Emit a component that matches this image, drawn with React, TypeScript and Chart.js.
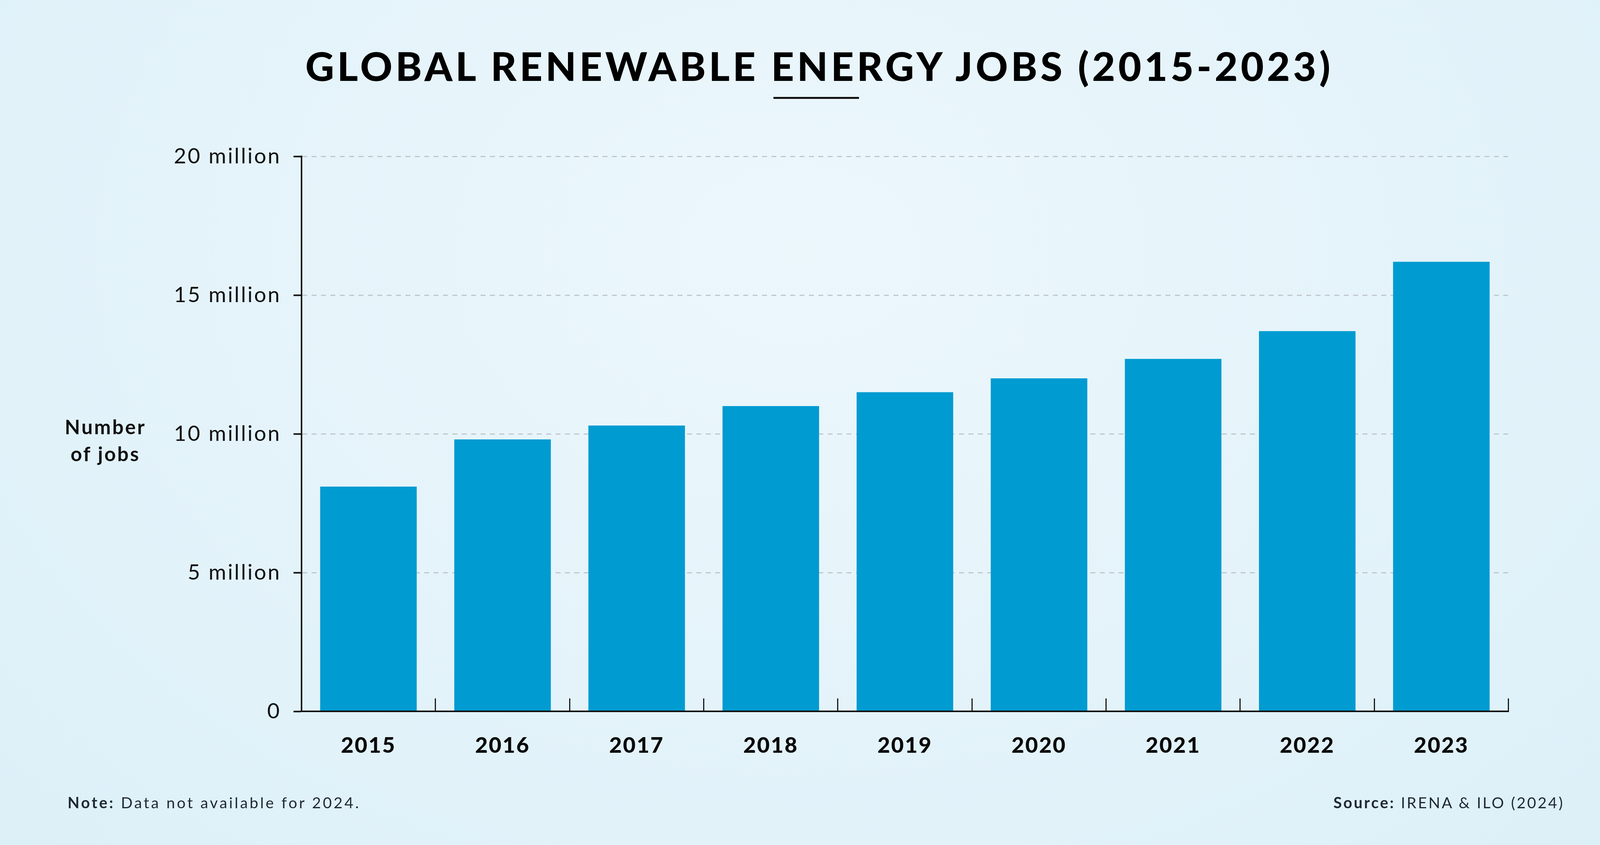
import { useEffect, useRef } from 'react';
import { Chart, registerables } from 'chart.js';

Chart.register(...registerables);

const years = ['2015', '2016', '2017', '2018', '2019', '2020', '2021', '2022', '2023'];
const jobsMillions = [8.1, 9.8, 10.3, 11.0, 11.5, 12.0, 12.7, 13.7, 16.2];
const yTickValues = [0, 5, 10, 15, 20];
const yTickLabels = ['0', '5 million', '10 million', '15 million', '20 million'];

const W = 4263;
const H = 2162;
const FONT = 'Lato, "Noto Sans", sans-serif';

// layout is in reference pixels, scaled to fill the real viewport
const VW = typeof window !== 'undefined' && window.innerWidth ? window.innerWidth : W;
const VH = typeof window !== 'undefined' && window.innerHeight ? window.innerHeight : H;
const SX = VW / W;
const SY = VH / H;
const px = (n: number) => n * SX;
const py = (n: number) => n * SY;

// canvas has no letter-spacing option in Chart.js, so wrap each scale's label drawing
const tickSpacing: Record<string, number> = { x: 3, y: 4 };
const letterSpacingPlugin = {
  id: 'tickLetterSpacing',
  beforeDraw(chart: any) {
    Object.keys(tickSpacing).forEach((id) => {
      const s = chart.scales[id];
      if (!s || s.__spaced) return;
      const orig = s.drawLabels;
      s.drawLabels = function (area: any) {
        const ctx = this.ctx;
        const prev = ctx.letterSpacing;
        ctx.letterSpacing = `${px(tickSpacing[id])}px`;
        orig.call(this, area);
        ctx.letterSpacing = prev;
      };
      s.__spaced = true;
    });
  },
};

function JobsChart() {
  const ref = useRef<HTMLCanvasElement>(null);
  const chartRef = useRef<Chart | null>(null);

  useEffect(() => {
    if (!ref.current) return;
    chartRef.current?.destroy();
    chartRef.current = new Chart(ref.current, {
      type: 'bar',
      data: {
        labels: years,
        datasets: [{
          label: 'Number of jobs',
          data: jobsMillions,
          backgroundColor: '#009bd1',
          borderWidth: 0,
          categoryPercentage: 0.72,
          barPercentage: 1,
        }],
      },
      options: {
        responsive: true, maintainAspectRatio: false,
        animation: false,
        layout: { padding: { left: px(103), right: px(244), top: py(400), bottom: py(142) } },
        plugins: { legend: { display: false }, tooltip: { enabled: false } },
        scales: {
          x: {
            afterFit: (scale: any) => { scale.height = py(200); },
            grid: {
              drawOnChartArea: false, drawTicks: true, tickLength: -py(33),
              tickColor: '#111', tickWidth: px(3), offset: true,
            },
            border: { color: '#111', width: py(4), z: 1 },
            ticks: {
              color: '#0a0a0a', padding: py(88),
              font: { family: FONT, size: px(58), weight: 900 },
            },
          },
          y: {
            min: 0, max: 20,
            afterFit: (scale: any) => { scale.width = px(700); },
            afterBuildTicks: (scale: any) => { scale.ticks = yTickValues.map((v) => ({ value: v })); },
            grid: {
              color: '#bfc7cc', lineWidth: py(3),
              tickColor: '#111', tickWidth: py(4), tickLength: px(21),
            },
            border: { color: '#111', width: px(4), dash: [px(13), px(12)] },
            ticks: {
              color: '#111', padding: px(33),
              font: { family: FONT, size: px(57), weight: 400 },
              callback: (v: any) => yTickLabels[yTickValues.indexOf(Number(v))] ?? '',
            },
          },
        },
      },
      plugins: [letterSpacingPlugin],
    });
    return () => { chartRef.current?.destroy(); };
  }, []);

  return <canvas ref={ref} />;
}

export default function App() {
  const top = (size: number, baseline: number) => py(baseline) - px(0.887 * size);
  return (
    <div style={{
      position: 'relative', width: VW, height: VH, overflow: 'hidden',
      background: 'radial-gradient(ellipse at 50% 30%, #ecf7fc 0%, #e4f3fa 55%, #dcf0f8 100%)',
      fontFamily: FONT,
    }}>
      <style>{'body{margin:0;overflow:hidden}'}</style>
      <div style={{ position: 'absolute', inset: 0 }}>
        <JobsChart />
      </div>
      <div style={{
        position: 'absolute', left: px(2183), top: top(106, 207), transform: 'translateX(-50%)',
        fontSize: px(106), lineHeight: 1, fontWeight: 900, letterSpacing: px(8.2), whiteSpace: 'nowrap', color: '#000',
      }}>GLOBAL RENEWABLE ENERGY JOBS (2015-2023)</div>
      <div style={{ position: 'absolute', left: px(2061), top: py(248), width: px(228), height: py(5), background: '#111' }} />
      <div style={{
        position: 'absolute', left: px(81), width: px(400), top: py(1111) - px(56.5), textAlign: 'center',
        fontSize: px(53), lineHeight: `${px(72)}px`, fontWeight: 700, letterSpacing: px(4), color: '#111',
      }}>Number<br />of jobs</div>
      <div style={{
        position: 'absolute', left: px(180), top: top(41, 2068), fontSize: px(41), lineHeight: 1,
        letterSpacing: px(5), color: '#1e2833', whiteSpace: 'nowrap',
      }}><b>Note:</b> Data not available for 2024.</div>
      <div style={{
        position: 'absolute', right: px(95), top: top(41, 2068), fontSize: px(41), lineHeight: 1,
        letterSpacing: px(4.2), color: '#1e2833', whiteSpace: 'nowrap',
      }}><b>Source:</b> IRENA &amp; ILO (2024)</div>
    </div>
  );
}
